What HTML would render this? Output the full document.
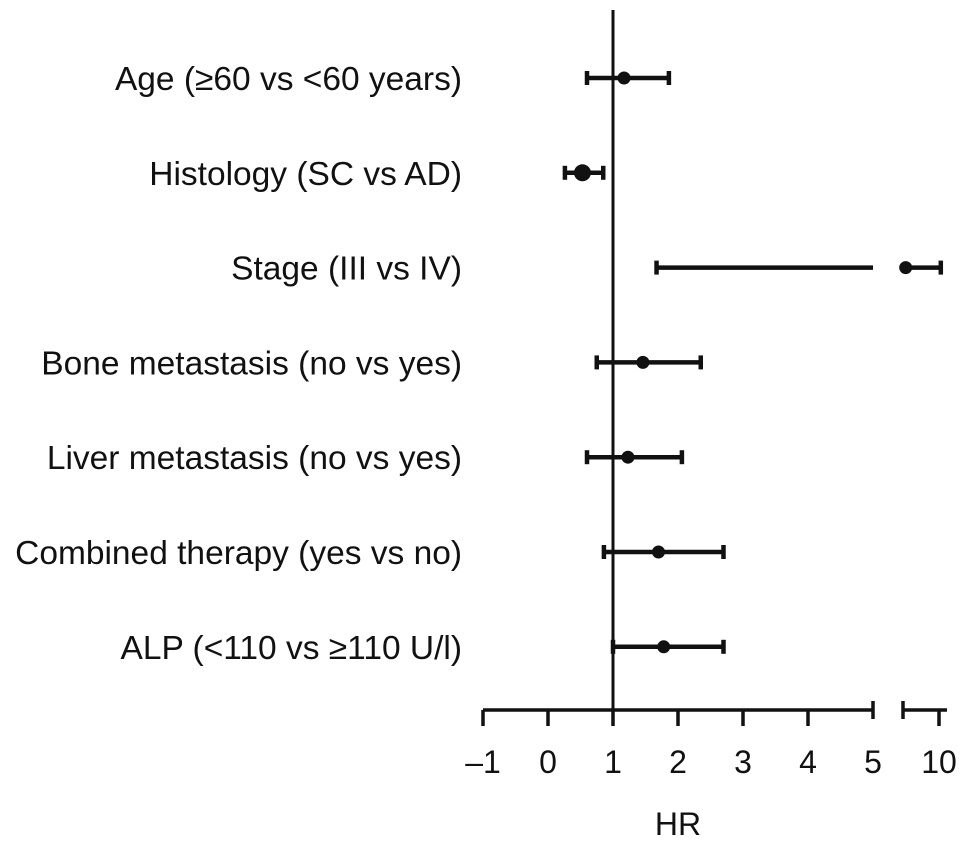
<!DOCTYPE html>
<html><head><meta charset="utf-8"><style>
body{margin:0;background:#fff}
svg text{font-family:"Liberation Sans",Arial,sans-serif;fill:#111}
</style></head><body>
<svg id="chart" width="969" height="843" viewBox="0 0 969 843" xmlns="http://www.w3.org/2000/svg"></svg>
<script>
const categories=["Age (\u226560 vs <60 years)","Histology (SC vs AD)","Stage (III vs IV)","Bone metastasis (no vs yes)","Liver metastasis (no vs yes)","Combined therapy (yes vs no)","ALP (<110 vs \u2265110 U/l)"];
const hrValues=[1.17,0.53,6.3,1.46,1.23,1.7,1.78];
const lowerCI=[0.6,0.26,1.67,0.75,0.6,0.86,1.0];
const upperCI=[1.86,0.85,10.2,2.35,2.06,2.7,2.7];
const tickLabels1=[-1,0,1,2,3,4,5];
const tickLabels2=[10];
const NS="http://www.w3.org/2000/svg";
const svg=document.getElementById('chart');
const axisY=710, rowY0=78, rowStep=94.8;
function x(v){ if(v<=5) return 613+(v-1)*65; return 903+(v-6)*9; }
function y(i){ return rowY0+i*rowStep; }
function el(t,a){const e=document.createElementNS(NS,t);for(const k in a)e.setAttribute(k,a[k]);svg.appendChild(e);return e;}
let e;
e=el('line',{x1:613,y1:10,x2:613,y2:axisY,stroke:'#111','stroke-width':3});


e=el('line',{x1:483,y1:axisY,x2:873,y2:axisY,stroke:'#111','stroke-width':3.5});


e=el('line',{x1:903,y1:axisY,x2:947,y2:axisY,stroke:'#111','stroke-width':3.5});


el('line',{x1:873,y1:axisY-9,x2:873,y2:axisY+9,stroke:'#111','stroke-width':3.5});
el('line',{x1:903,y1:axisY-9,x2:903,y2:axisY+9,stroke:'#111','stroke-width':3.5});
tickLabels1.concat(tickLabels2).forEach(v=>{
  const xx=x(v);
  if(v!==5) el('line',{x1:xx,y1:axisY,x2:xx,y2:axisY+16,stroke:'#111','stroke-width':3.5});
  e=el('text',{x:xx,y:773,'font-size':32,'text-anchor':'middle'});
  e.textContent=v<0?'\u2013'+Math.abs(v):String(v);
  
  
});
e=el('text',{x:678,y:835,'font-size':32,'text-anchor':'middle'});e.textContent='HR';


categories.forEach((c,i)=>{
  const yy=y(i);
  e=el('text',{x:462,y:yy+12,'font-size':33.5,'text-anchor':'end'});e.textContent=c;
  
  
  const lo=x(lowerCI[i]), hi=x(upperCI[i]), p=x(hrValues[i]);
  if(upperCI[i]>5 && lowerCI[i]<=5){
    el('line',{x1:lo,y1:yy,x2:873,y2:yy,stroke:'#111','stroke-width':4.5});
    el('line',{x1:p,y1:yy,x2:hi,y2:yy,stroke:'#111','stroke-width':4.5});
  } else {
    e=el('line',{x1:lo,y1:yy,x2:hi,y2:yy,stroke:'#111','stroke-width':4.5});
    
    
  }
  el('line',{x1:lo,y1:yy-7,x2:lo,y2:yy+7,stroke:'#111','stroke-width':4.5});
  el('line',{x1:hi,y1:yy-7,x2:hi,y2:yy+7,stroke:'#111','stroke-width':4.5});
  e=el('circle',{cx:p,cy:yy,r:i===1?8.5:6.5,fill:'#111'});
  
  
});
</script>
</body></html>
